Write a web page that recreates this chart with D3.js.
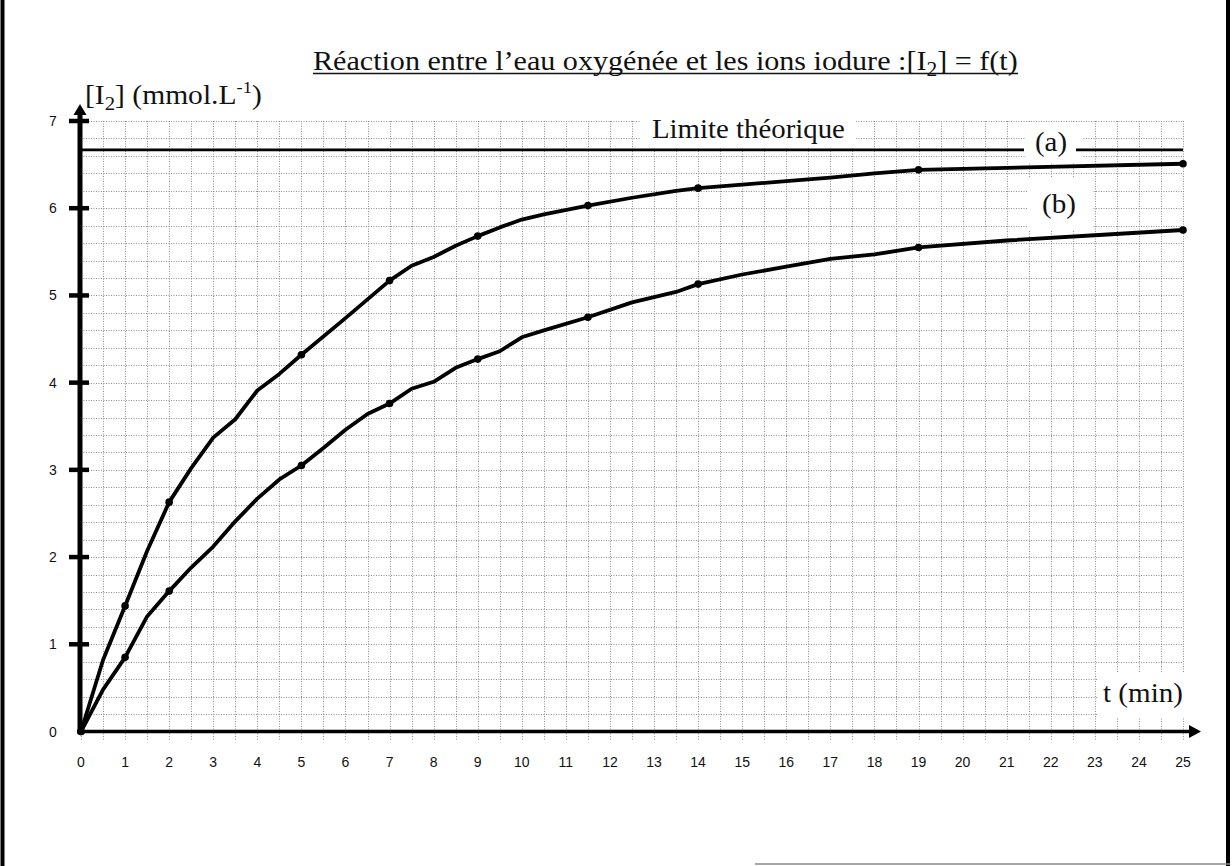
<!DOCTYPE html>
<html>
<head>
<meta charset="utf-8">
<script src="https://cdn.jsdelivr.net/npm/d3@7"></script>
<style>
  html, body { margin: 0; padding: 0; background: #fff; }
  svg { display: block; }
  .serif { font-family: "Liberation Serif", "Times New Roman", serif; fill: #111; }
  .tick-lbl { font-family: "Liberation Sans", Arial, sans-serif; font-size: 14px; fill: #111; }
</style>
</head>
<body>
<svg id="chart" width="1232" height="866"></svg>
<script>
// axis ticks
const xTicks = d3.range(0, 26);
const yTicks = [0, 1, 2, 3, 4, 5, 6, 7];

// curve (a): hand-drawn line through the measurements
const tA = [0, 0.5, 1, 1.5, 2, 2.5, 3, 3.5, 4, 4.5, 5, 6, 7, 7.5, 8, 8.5, 9, 9.5, 10, 10.5, 11.5, 12.5, 13.5, 14, 15, 16, 17, 18, 19, 25];
const cA = [0, 0.82, 1.44, 2.07, 2.63, 3.02, 3.37, 3.58, 3.91, 4.1, 4.32, 4.74, 5.17, 5.34, 5.44, 5.57, 5.68, 5.78, 5.87, 5.93, 6.03, 6.12, 6.2, 6.23, 6.27, 6.31, 6.35, 6.4, 6.44, 6.51];

// curve (b)
const tB = [0, 0.5, 1, 1.5, 2, 2.5, 3, 3.5, 4, 4.5, 5, 5.5, 6, 6.5, 7, 7.5, 8, 8.5, 9, 9.5, 10, 10.5, 11.5, 12.5, 13.5, 14, 15, 16, 17, 18, 19, 21, 23, 25];
const cB = [0, 0.48, 0.85, 1.32, 1.61, 1.88, 2.12, 2.41, 2.67, 2.89, 3.05, 3.25, 3.46, 3.64, 3.76, 3.93, 4.01, 4.17, 4.27, 4.36, 4.52, 4.6, 4.75, 4.92, 5.04, 5.13, 5.24, 5.33, 5.42, 5.47, 5.55, 5.63, 5.69, 5.75];

// measured times (dots)
const tMes = [0, 1, 2, 5, 7, 9, 11.5, 14, 19, 25];

const limite = 6.67;

const svg = d3.select("#chart");

const x = d3.scaleLinear().domain([0, 25]).range([81, 1183]);
const y = d3.scaleLinear().domain([0, 7]).range([731.5, 121]);

// page frame
svg.append("line").attr("x1", 2.5).attr("x2", 2.5).attr("y1", 0).attr("y2", 866)
  .attr("stroke", "#000").attr("stroke-width", 4);
svg.append("line").attr("x1", 1228).attr("x2", 1228).attr("y1", 0).attr("y2", 866)
  .attr("stroke", "#000").attr("stroke-width", 4);
svg.append("line").attr("x1", 755).attr("x2", 1230).attr("y1", 864).attr("y2", 864)
  .attr("stroke", "#888").attr("stroke-width", 1.5);

// grid
const grid = svg.append("g").attr("stroke", "#8f8f8f").attr("stroke-width", 1).attr("stroke-dasharray", "1 1.5");
grid.selectAll("line.h")
  .data(d3.range(0, 36).map((i) => i * 0.2))
  .join("line")
  .attr("x1", x(0)).attr("x2", x(25))
  .attr("y1", (d) => Math.round(y(d)) + 0.5).attr("y2", (d) => Math.round(y(d)) + 0.5);
grid.selectAll("line.v")
  .data(d3.range(0, 51).map((i) => i * 0.5))
  .join("line")
  .attr("y1", y(7)).attr("y2", y(-0.1))
  .attr("x1", (d) => Math.round(x(d)) + 0.5).attr("x2", (d) => Math.round(x(d)) + 0.5);

// white boxes behind the labels
const boxes = [
  [640, 118, 215, 30],
  [1026, 122, 56, 40],
  [1028, 178, 64, 52],
  [1097, 672, 94, 46],
];
svg.selectAll("rect.box").data(boxes).join("rect")
  .attr("x", (d) => d[0]).attr("y", (d) => d[1]).attr("width", (d) => d[2]).attr("height", (d) => d[3])
  .attr("fill", "#fff");

// limit line with a gap for "(a)"
svg.append("line").attr("x1", x(0)).attr("x2", 1024).attr("y1", y(limite)).attr("y2", y(limite))
  .attr("stroke", "#000").attr("stroke-width", 2.8);
svg.append("line").attr("x1", 1076).attr("x2", x(25)).attr("y1", y(limite)).attr("y2", y(limite))
  .attr("stroke", "#000").attr("stroke-width", 2.8);

// axes
svg.append("line").attr("x1", x(0)).attr("x2", 1192).attr("y1", y(0)).attr("y2", y(0))
  .attr("stroke", "#000").attr("stroke-width", 3.5);
svg.append("path").attr("d", `M1201,${y(0)} L1189,${y(0) - 6.5} L1189,${y(0) + 6.5} Z`).attr("fill", "#000");

const ax = x(0) - 1;
svg.append("line").attr("x1", ax).attr("x2", ax).attr("y1", y(0) + 2).attr("y2", 112)
  .attr("stroke", "#000").attr("stroke-width", 5);
svg.append("path").attr("d", `M${ax},104 L${ax - 6.5},115 L${ax + 6.5},115 Z`).attr("fill", "#000");

svg.selectAll("line.ytick").data(yTicks.filter((d) => d > 0)).join("line")
  .attr("x1", ax - 11).attr("x2", ax + 9)
  .attr("y1", (d) => y(d)).attr("y2", (d) => y(d))
  .attr("stroke", "#000").attr("stroke-width", 4.5);

svg.selectAll("text.ylbl").data(yTicks).join("text")
  .attr("class", "tick-lbl")
  .attr("x", 53).attr("y", (d) => y(d) + 5)
  .attr("text-anchor", "middle")
  .text((d) => d);

svg.selectAll("text.xlbl").data(xTicks).join("text")
  .attr("class", "tick-lbl")
  .attr("x", (d) => x(d)).attr("y", 767)
  .attr("text-anchor", "middle")
  .text((d) => d);

// curves
const line = d3.line().x((d) => x(d[0])).y((d) => y(d[1]));
const seriesA = tA.map((t, i) => [t, cA[i]]);
const seriesB = tB.map((t, i) => [t, cB[i]]);

[seriesA, seriesB].forEach((s) => {
  svg.append("path").datum(s)
    .attr("fill", "none").attr("stroke", "#000").attr("stroke-width", 3.8)
    .attr("stroke-linejoin", "round").attr("d", line);
  svg.selectAll(null).data(s.filter((d) => tMes.includes(d[0]))).join("circle")
    .attr("cx", (d) => x(d[0])).attr("cy", (d) => y(d[1])).attr("r", 3.8).attr("fill", "#000");
});

// texts (squeezed to the widths of the scanned lettering)
function fitWidth(sel, x0, w) {
  const k = w / sel.node().getBBox().width;
  sel.attr("transform", `translate(${x0},0) scale(${k},1) translate(${-x0},0)`);
}

const title = svg.append("text").attr("class", "serif").attr("x", 313).attr("y", 70).attr("font-size", 28);
title.append("tspan").text("Réaction entre l’eau oxygénée et les ions iodure :[I");
title.append("tspan").attr("font-size", 20).attr("dy", 6).text("2");
title.append("tspan").attr("dy", -6).text("] = f(t)");
fitWidth(title, 313, 705);
svg.append("line").attr("x1", 313).attr("x2", 1018).attr("y1", 73.5).attr("y2", 73.5)
  .attr("stroke", "#111").attr("stroke-width", 1.5);

const ylab = svg.append("text").attr("class", "serif").attr("x", 85).attr("y", 104).attr("font-size", 27);
ylab.append("tspan").text("[I");
ylab.append("tspan").attr("font-size", 19).attr("dy", 6).text("2");
ylab.append("tspan").attr("dy", -6).text("] (mmol.L");
ylab.append("tspan").attr("font-size", 17).attr("dy", -11).text("-1");
ylab.append("tspan").attr("dy", 11).text(")");
fitWidth(ylab, 85, 177);

const lim = svg.append("text").attr("class", "serif").attr("x", 652).attr("y", 138).attr("font-size", 27).text("Limite théorique");
fitWidth(lim, 652, 193);

const la = svg.append("text").attr("class", "serif").attr("x", 1035).attr("y", 151).attr("font-size", 27).text("(a)");
fitWidth(la, 1035, 32);
const lb = svg.append("text").attr("class", "serif").attr("x", 1042).attr("y", 213).attr("font-size", 27).text("(b)");
fitWidth(lb, 1042, 34);
const lt = svg.append("text").attr("class", "serif").attr("x", 1103).attr("y", 702).attr("font-size", 27).text("t (min)");
fitWidth(lt, 1103, 80);
</script>
</body>
</html>
